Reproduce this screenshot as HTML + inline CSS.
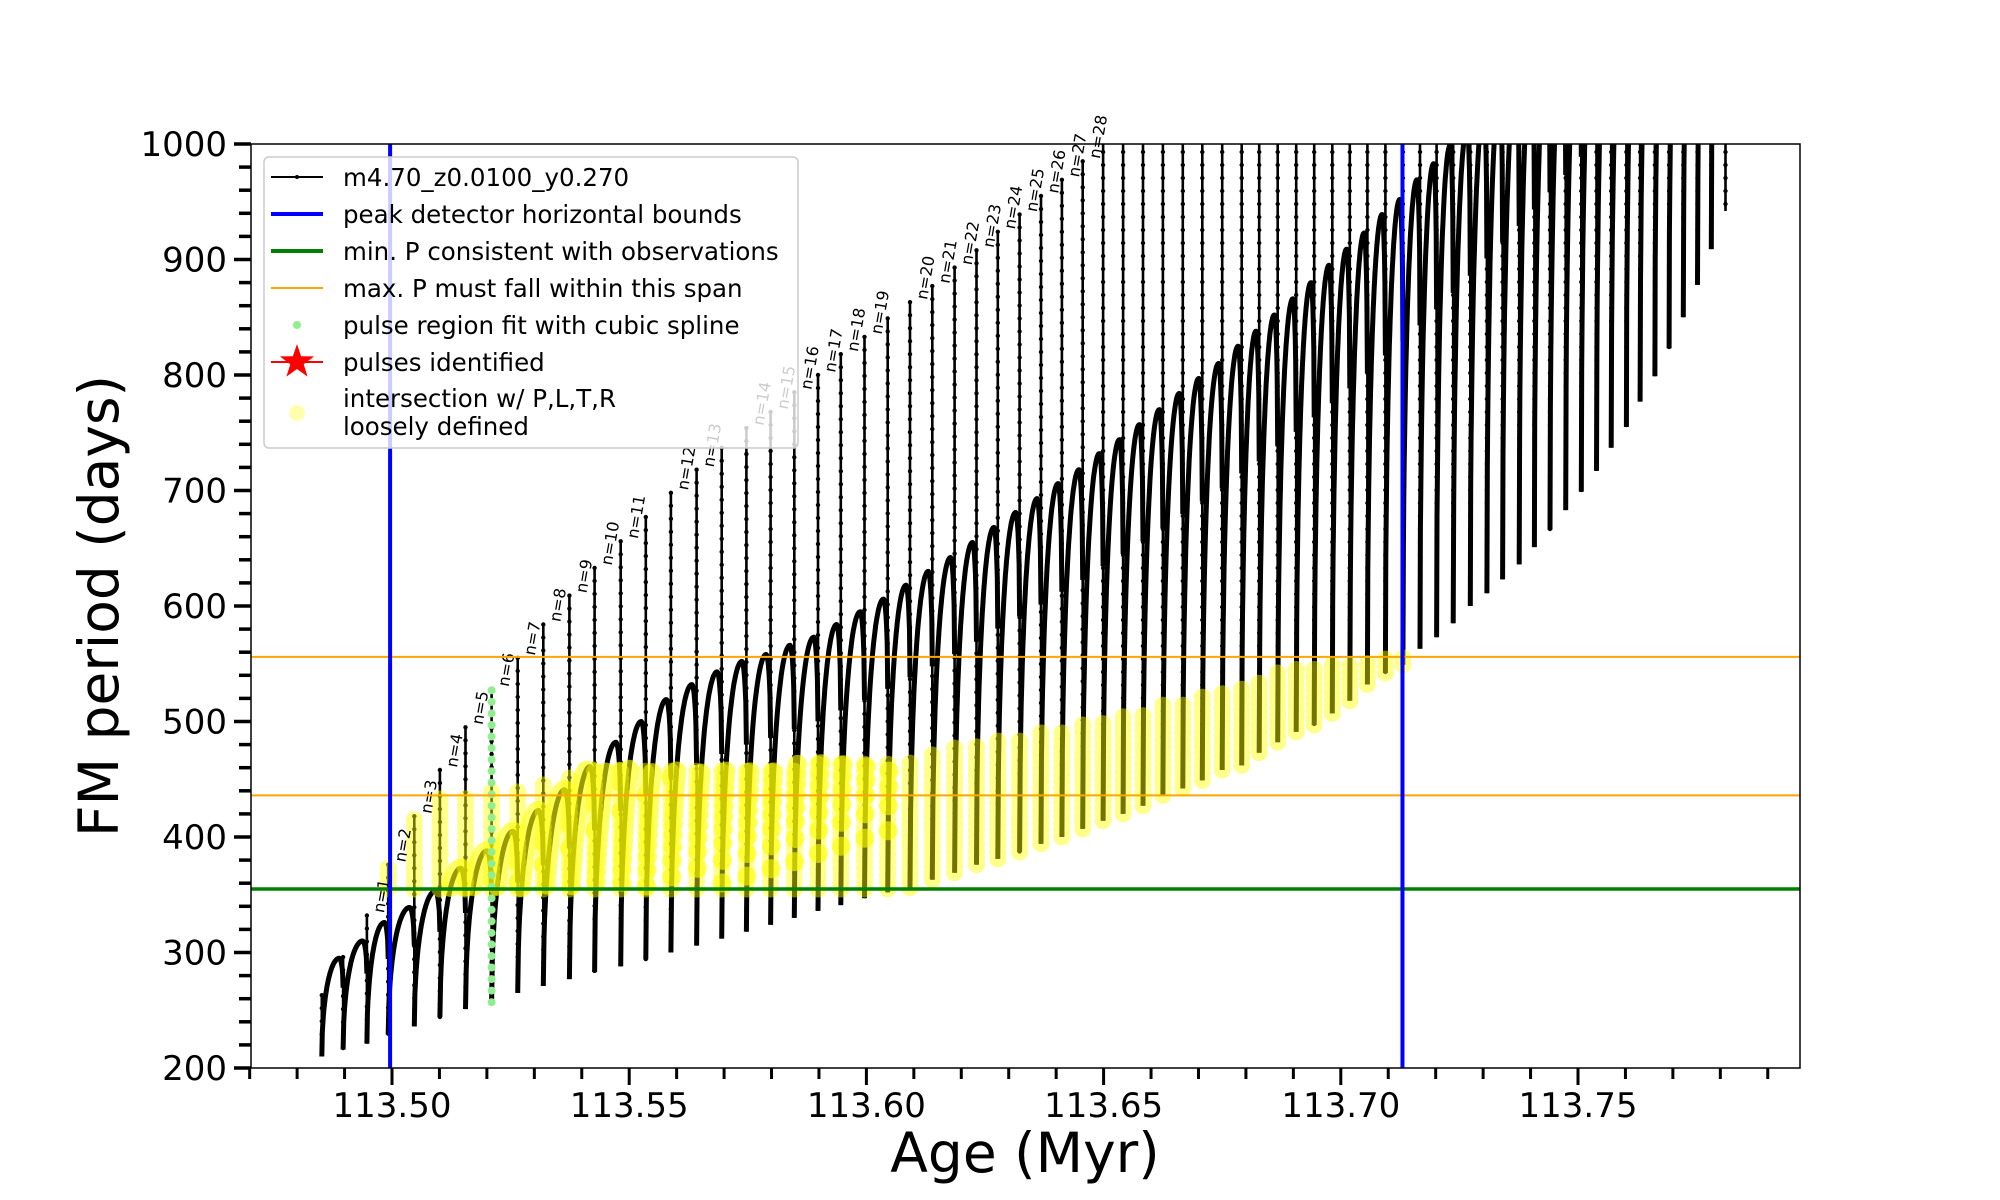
<!DOCTYPE html>
<html><head><meta charset="utf-8"><style>
html,body{margin:0;padding:0;background:#fff;}
svg{display:block;font-family:"DejaVu Sans","Liberation Sans",sans-serif;}
</style></head><body>
<svg id="chart" width="2000" height="1200" viewBox="0 0 2000 1200" xmlns="http://www.w3.org/2000/svg">
<defs><clipPath id="plotclip"><rect x="251" y="144" width="1549" height="924"/></clipPath></defs>
<rect x="0" y="0" width="2000" height="1200" fill="#fff"/>
<g id="curve" clip-path="url(#plotclip)"></g>
<g id="yellow" clip-path="url(#plotclip)"></g>
<g id="greendots" clip-path="url(#plotclip)"></g>
<g id="labels"></g>
<g id="reflines"></g>
<rect x="251" y="144" width="1549" height="924" fill="none" stroke="#000" stroke-width="1.5"/>
<g id="axes"></g>
<text x="1025" y="1172" font-size="55" text-anchor="middle">Age (Myr)</text>
<text transform="translate(118,606) rotate(-90)" font-size="55" text-anchor="middle">FM period (days)</text>
<g id="legend">
<rect x="264" y="157" width="534" height="291" rx="5" fill="#fff" fill-opacity="0.8" stroke="#ccc" stroke-width="1.5"/>
<g><line x1="271" y1="177" x2="323" y2="177" stroke="#000" stroke-width="2"/><circle cx="297" cy="177" r="2" fill="#000"/><text x="343" y="186" font-size="24.5">m4.70_z0.0100_y0.270</text></g>
<g><line x1="271" y1="214" x2="323" y2="214" stroke="#0000ff" stroke-width="4"/><text x="343" y="223" font-size="24.5">peak detector horizontal bounds</text></g>
<g><line x1="271" y1="251" x2="323" y2="251" stroke="#008000" stroke-width="4"/><text x="343" y="260" font-size="24.5">min. P consistent with observations</text></g>
<g><line x1="271" y1="288" x2="323" y2="288" stroke="#ffa500" stroke-width="2"/><text x="343" y="297" font-size="24.5">max. P must fall within this span</text></g>
<g><circle cx="297" cy="325" r="4" fill="#90ee90"/><text x="343" y="334" font-size="24.5">pulse region fit with cubic spline</text></g>
<g><line x1="271" y1="362" x2="323" y2="362" stroke="#ff0000" stroke-width="2"/><polygon id="star" fill="#ff0000"/><text x="343" y="371" font-size="24.5">pulses identified</text></g>
<g><circle cx="297" cy="413" r="8" fill="#ffff99" fill-opacity="0.8"/><text x="343" y="407" font-size="24.5">intersection w/ P,L,T,R</text><text x="343" y="435" font-size="24.5">loosely defined</text></g>
</g>
</svg>
<script>
const ages=[113.4852,113.4897,113.4947,113.4992,113.5047,113.5101,113.5155,113.5210,113.5265,113.5319,113.5374,113.5427,113.5482,113.5535,113.5588,113.5642,113.5695,113.5747,113.5798,113.5848,113.5898,113.5946,113.5996,113.6045,113.6092,113.6139,113.6186,113.6232,113.6277,113.6323,113.6368,113.6412,113.6456,113.6499,113.6541,113.6583,113.6625,113.6667,113.6708,113.6750,113.6791,113.6828,113.6867,113.6906,113.6944,113.6982,113.7019,113.7056,113.7094,113.7131,113.7167,113.7202,113.7237,113.7273,113.7308,113.7341,113.7376,113.7408,113.7441,113.7474,113.7507,113.7539,113.7570,113.7602,113.7631,113.7662,113.7692,113.7722,113.7752,113.7781,113.7811];
const peaks=[263,296,332,376,418,458,495,528,555,584,609,633,656,677,698,718,737,754,768,785,800,818,833,849,863,877,893,908,924,939,955,969,985,1100,1100,1100,1100,1100,1100,1100,1100,1100,1100,1100,1100,1100,1100,1100,1100,1100,1100,1100,1100,1100,1100,1100,1100,1100,1100,1100,1100,1100,1100,1100,1100,1100,1100,1100,1100,1100,1100];
const troughs=[210,216,221,229,236,244,251,257,265,271,277,283,288,294,300,306,312,318,324,330,336,341,347,352,356,363,369,376,381,387,394,400,407,414,420,427,436,442,449,458,462,473,482,491,497,507,518,532,542,549,563,573,585,600,611,623,636,651,666,683,699,717,737,755,777,799,823,850,878,909,942];
const humps=[295,310,326,339,353,373,388,405,423,441,461,482,500,519,532,543,552,558,566,573,584,595,606,618,630,642,655,668,681,693,706,718,732,744,757,770,784,797,810,825,838,852,866,880,895,909,923,939,952,969,983,999,1015,1030,1045,1060,1075,1090,1105,1120,1135,1150,1165,1180,1195,1210,1225,1240,1255,1270,0];
const yellowTop=[0,0,0,376,418,436,436,440,440,445,455,458,458,460,460,460,460,460,460,462,464,464,465,466,468,475,478,480,484,488,490,494,497,502,505,510,514,519,524,528,533,537,542,546,550,551,553,555,556,556,0,0,0,0,0,0,0,0,0,0,0,0,0,0,0,0,0,0,0,0,0];
const pulseLabels=[0,0,1,2,3,4,5,6,7,8,9,10,11,0,12,13,0,14,15,16,17,18,19,0,20,21,22,23,24,25,26,27,28,0,0,0,0,0,0,0,0,0,0,0,0,0,0,0,0,0,0,0,0,0,0,0,0,0,0,0,0,0,0,0,0,0,0,0,0,0,0];
const splinePulse=7;
const minP=355;
const maxPLines=[436,556];
const peakBounds=[113.4996,113.7130];
const yTicks=[200,300,400,500,600,700,800,900,1000];
const xTicks=[113.50,113.55,113.60,113.65,113.70,113.75];
const xTickLabels=["113.50","113.55","113.60","113.65","113.70","113.75"];

const NS="http://www.w3.org/2000/svg";
const X0=251,X1=1800,Y0=144,Y1=1068;
function xs(a){return 392+(a-113.5)*4744;}
function ys(v){return Y1-(v-200)*(Y1-Y0)/800;}
function mk(tag,attrs,parent){const e=document.createElementNS(NS,tag);for(const k in attrs)e.setAttribute(k,attrs[k]);parent.appendChild(e);return e;}
function g(u){const a=0.82;if(u<=a){const t=u/a;return Math.sqrt(1-(1-t)*(1-t));}const t=(u-a)/(1-a);return 0.7+0.3*Math.sqrt(Math.max(0,1-t*t));}

const curve=document.getElementById('curve');
const yellow=document.getElementById('yellow');
let vert="",arcs="";
const n=ages.length;
for(let k=0;k<n;k++){
  const x=xs(ages[k]);
  vert+="M"+x.toFixed(1)+","+ys(peaks[k]).toFixed(1)+"L"+x.toFixed(1)+","+ys(troughs[k]).toFixed(1);
  if(k<n-1){
    const x2=xs(ages[k+1]);
    let d="M"+x.toFixed(1)+","+ys(troughs[k]).toFixed(1);
    for(let i=1;i<=40;i++){const u=i/40;const v=troughs[k]+(humps[k]-troughs[k])*g(u);d+="L"+(x+(x2-x)*u).toFixed(1)+","+ys(v).toFixed(1);}
    arcs+=d;
  }
}
const pv=mk('path',{d:vert,stroke:'#000','stroke-width':2.6,fill:'none'},curve);


const pa=mk('path',{d:arcs,stroke:'#000','stroke-width':5,fill:'none','stroke-linejoin':'round'},curve);


let beads="";
for(let k=0;k<n;k++){const x=xs(ages[k]);const yt=Math.max(ys(peaks[k]),Y0-5),yb=ys(troughs[k]);for(let y=yt;y<=yb;y+=13){beads+="M"+(x-2.2).toFixed(1)+","+y.toFixed(1)+"a2.2,2.2 0 1,0 4.4,0a2.2,2.2 0 1,0 -4.4,0";}}
const pb=mk('path',{d:beads,fill:'#000'},curve);



let yd="",ydArc="";
function dot(x,y,r){return "M"+(x-r).toFixed(1)+","+y.toFixed(1)+"a"+r+","+r+" 0 1,0 "+(2*r)+",0a"+r+","+r+" 0 1,0 "+(-2*r)+",0";}
for(let k=0;k<n;k++){
  const U=yellowTop[k];if(!U)continue;
  const x=xs(ages[k]);
  const lo=Math.max(troughs[k],minP),hi=Math.min(peaks[k],U);
  for(let v=lo;v<=hi;v+=6)yd+=dot(x,ys(v),8.5);
  if(k<n-1&&yellowTop[k+1]&&troughs[k]<minP){
    const x2=xs(ages[k+1]);const U2=Math.max(U,yellowTop[k+1]);
    for(let i=0;i<=60;i++){const u=i/60;const v=troughs[k]+(humps[k]-troughs[k])*g(u);if(v>=minP&&v<=U2)ydArc+=dot(x+(x2-x)*u,ys(v),9.5);}
  }
}
const yp=mk('path',{d:yd,fill:'#ffff00','fill-opacity':0.45},yellow);


const yp2=mk('path',{d:ydArc,fill:'#ffff00','fill-opacity':0.6},yellow);



const gd=document.getElementById('greendots');
{const x=xs(ages[splinePulse]);let d="";for(let v=troughs[splinePulse];v<=peaks[splinePulse];v+=10)d+=dot(x,ys(v),4);
const gp=mk('path',{d:d,fill:'#90ee90'},gd);

}

const lab=document.getElementById('labels');
for(let k=0;k<n;k++){
  if(!pulseLabels[k])continue;
  const x=xs(ages[k])+17,y=ys(peaks[k])-2;
  const t=mk('text',{transform:'translate('+x.toFixed(1)+','+y.toFixed(1)+') rotate(-80)','font-size':16},lab);
  
  
  t.textContent='n='+pulseLabels[k];
}

const rl=document.getElementById('reflines');
const gl=mk('line',{x1:X0,x2:X1,y1:ys(minP),y2:ys(minP),stroke:'#008000','stroke-width':3.5},rl);


maxPLines.forEach(v=>{const l=mk('line',{x1:X0,x2:X1,y1:ys(v),y2:ys(v),stroke:'#ffa500','stroke-width':2},rl);

});
peakBounds.forEach(a=>{const l=mk('line',{x1:xs(a),x2:xs(a),y1:Y0,y2:Y1,stroke:'#0000ff','stroke-width':4},rl);

});

const ax=document.getElementById('axes');
for(let v=200;v<=1000;v+=20){const major=yTicks.indexOf(v)>=0;const l=mk('line',{x1:X0-(major?17:12),x2:X0,y1:ys(v),y2:ys(v),stroke:'#000','stroke-width':3.5},ax);

}
yTicks.forEach(v=>{const t=mk('text',{x:227,y:ys(v)+12,'font-size':34,'text-anchor':'end'},ax);


t.textContent=String(v);});
for(let i=0;i<=32;i++){const a=113.47+i*0.01;const major=xTicks.some(m=>Math.abs(m-a)<1e-6);const l=mk('line',{x1:xs(a),x2:xs(a),y1:Y1,y2:Y1+(major?17:11),stroke:'#000','stroke-width':3},ax);

}
xTicks.forEach((a,i)=>{const t=mk('text',{x:xs(a),y:1117,'font-size':34,'text-anchor':'middle'},ax);


t.textContent=xTickLabels[i];});

{const cx=297,cy=362,R=18,r=7;let pts=[];for(let i=0;i<10;i++){const ang=-Math.PI/2+i*Math.PI/5;const rr=i%2?r:R;pts.push((cx+rr*Math.cos(ang)).toFixed(1)+','+(cy+rr*Math.sin(ang)).toFixed(1));}
document.getElementById('star').setAttribute('points',pts.join(' '));}
</script>
</body></html>
